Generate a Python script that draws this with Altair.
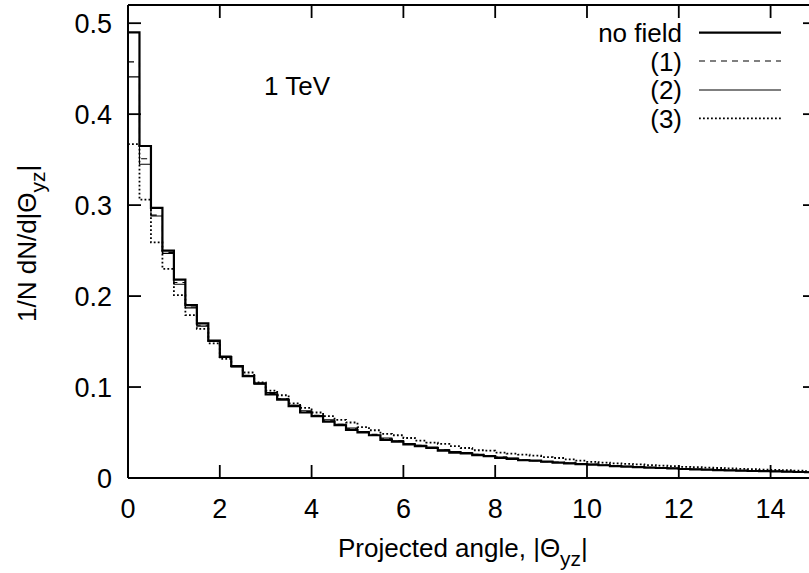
import altair as alt
import pandas as pd

# ---------------- data ----------------
BIN_WIDTH = 0.25
series_names = ["no field", "(1)", "(2)", "(3)"]

no_field = [0.490, 0.365, 0.297, 0.250, 0.218, 0.190, 0.170, 0.151, 0.133, 0.123,
            0.112, 0.104, 0.092, 0.086, 0.079, 0.072, 0.068, 0.062, 0.058, 0.053,
            0.050, 0.047, 0.042, 0.040, 0.037, 0.035, 0.033, 0.030, 0.028, 0.027,
            0.025, 0.024, 0.022, 0.021, 0.0195, 0.019, 0.018, 0.017, 0.016, 0.0152,
            0.0146, 0.014, 0.013, 0.0125, 0.012, 0.0115, 0.011, 0.0105, 0.0099, 0.0095,
            0.0091, 0.0087, 0.0083, 0.008, 0.0077, 0.0075, 0.0073, 0.007, 0.0066, 0.0063]

field1 = [0.4575, 0.351, 0.289, 0.248, 0.215, 0.188, 0.168, 0.150, 0.133, 0.123,
          0.113, 0.104, 0.093, 0.087, 0.080, 0.073, 0.069, 0.063, 0.059, 0.054,
          0.051, 0.048, 0.043, 0.041, 0.038, 0.036, 0.033, 0.031, 0.029, 0.027,
          0.026, 0.024, 0.023, 0.021, 0.020, 0.019, 0.018, 0.0175, 0.0165, 0.0155,
          0.015, 0.014, 0.0133, 0.0127, 0.0122, 0.0117, 0.0112, 0.0107, 0.0101, 0.0097,
          0.0093, 0.0089, 0.0085, 0.0082, 0.0079, 0.0076, 0.0074, 0.0071, 0.0068, 0.0065]

field2 = [0.441, 0.345, 0.288, 0.247, 0.213, 0.187, 0.167, 0.150, 0.134, 0.122,
          0.112, 0.103, 0.094, 0.087, 0.080, 0.074, 0.068, 0.064, 0.059, 0.055,
          0.051, 0.047, 0.044, 0.041, 0.038, 0.036, 0.034, 0.031, 0.029, 0.028,
          0.026, 0.024, 0.023, 0.022, 0.020, 0.019, 0.018, 0.017, 0.0165, 0.0158,
          0.015, 0.0143, 0.0135, 0.0128, 0.0122, 0.0116, 0.0112, 0.0106, 0.0101, 0.0096,
          0.0092, 0.0088, 0.0085, 0.0081, 0.0078, 0.0076, 0.0073, 0.007, 0.0067, 0.0064]

field3 = [0.367, 0.306, 0.259, 0.230, 0.201, 0.179, 0.164, 0.148, 0.131, 0.123,
          0.116, 0.105, 0.096, 0.091, 0.082, 0.077, 0.072, 0.068, 0.064, 0.061,
          0.056, 0.0525, 0.0485, 0.047, 0.044, 0.041, 0.039, 0.0375, 0.035, 0.033,
          0.0305, 0.030, 0.028, 0.0267, 0.0256, 0.0245, 0.023, 0.022, 0.0205, 0.019,
          0.0178, 0.017, 0.016, 0.0155, 0.015, 0.0142, 0.0136, 0.013, 0.0122, 0.0118,
          0.0113, 0.011, 0.0105, 0.0101, 0.0097, 0.0093, 0.009, 0.0085, 0.0081, 0.0076]

x_ticks = [0, 2, 4, 6, 8, 10, 12, 14]
x_tick_labels = ["0", "2", "4", "6", "8", "10", "12", "14"]
y_ticks = [0, 0.1, 0.2, 0.3, 0.4, 0.5]
y_tick_labels = ["0", "0.1", "0.2", "0.3", "0.4", "0.5"]

# ---------------- layout ----------------
FONT = "Liberation Sans"
W, H = 681, 473
LEFT, TOP = 128, 5
X_MAX = 14.837
Y_MAX = 0.52
TICK = 13

all_series = [no_field, field1, field2, field3]
rows = []
for name, vals in zip(series_names, all_series):
    for i, v in enumerate(vals):
        rows.append({"series": name, "x": i * BIN_WIDTH, "y": v})
    rows.append({"series": name, "x": len(vals) * BIN_WIDTH, "y": vals[-1]})
df = pd.DataFrame(rows)

xscale = alt.Scale(domain=[0, X_MAX], nice=False, zero=False)
yscale = alt.Scale(domain=[0, Y_MAX], nice=False)

styles = {
    "no field": dict(strokeWidth=2.2),
    "(1)": dict(strokeWidth=1.1, strokeDash=[6, 5]),
    "(2)": dict(strokeWidth=1.1),
    "(3)": dict(strokeWidth=1.8, strokeDash=[1.8, 2.2]),
}

layers = []
for name in series_names:
    sub = df[df["series"] == name]
    layers.append(
        alt.Chart(sub).mark_line(interpolate="step-after", color="black", clip=True,
                                 **styles[name]).encode(
            x=alt.X("x:Q", scale=xscale, axis=None),
            y=alt.Y("y:Q", scale=yscale, axis=None),
        )
    )

one = alt.Data(values=[{"a": 1}])

# frame (left, bottom, top)
frame = [
    alt.Chart(one).mark_rule(color="black", strokeWidth=2).encode(
        x=alt.value(0), y=alt.value(0), y2=alt.value(H)),
    alt.Chart(one).mark_rule(color="black", strokeWidth=2).encode(
        x=alt.value(0), x2=alt.value(W), y=alt.value(H)),
    alt.Chart(one).mark_rule(color="black", strokeWidth=2).encode(
        x=alt.value(0), x2=alt.value(W), y=alt.value(0)),
]

# inward ticks and tick labels
xt = pd.DataFrame({"v": x_ticks, "label": x_tick_labels})
yt = pd.DataFrame({"v": y_ticks, "label": y_tick_labels})
ticks = [
    alt.Chart(xt).mark_rule(color="black", strokeWidth=1.8).encode(
        x=alt.X("v:Q", scale=xscale, axis=None), y=alt.value(H), y2=alt.value(H - TICK)),
    alt.Chart(xt).mark_rule(color="black", strokeWidth=1.8).encode(
        x=alt.X("v:Q", scale=xscale, axis=None), y=alt.value(0), y2=alt.value(TICK)),
    alt.Chart(yt).mark_rule(color="black", strokeWidth=1.8).encode(
        y=alt.Y("v:Q", scale=yscale, axis=None), x=alt.value(0), x2=alt.value(TICK)),
    alt.Chart(yt).mark_rule(color="black", strokeWidth=1.8).encode(
        y=alt.Y("v:Q", scale=yscale, axis=None), x=alt.value(W - 6), x2=alt.value(W)),
    alt.Chart(xt).mark_text(font=FONT, fontSize=27, align="center", baseline="alphabetic",
                            color="black").encode(
        x=alt.X("v:Q", scale=xscale, axis=None), y=alt.value(H + 40), text="label:N"),
    alt.Chart(yt).mark_text(font=FONT, fontSize=27, align="right", baseline="alphabetic",
                            color="black", dy=9.7).encode(
        y=alt.Y("v:Q", scale=yscale, axis=None), x=alt.value(-16), text="label:N"),
]

def txt(s, x, y, size=26, align="left", angle=0):
    kw = dict(text=s, font=FONT, fontSize=size, align=align, baseline="alphabetic",
              color="black")
    if angle:
        kw["angle"] = angle
    return alt.Chart(one).mark_text(**kw).encode(x=alt.value(x), y=alt.value(y))

texts = [
    # annotation
    txt("1 TeV", 136, 90),
    # x title
    txt("Projected angle, |Θ", 210, 552),
    txt("yz", 432, 561, size=21),
    txt("|", 453, 552),
    # y title (rotated)
    txt("1/N dN/d|Θ", -92, 317, angle=270),
    txt("yz", -83, 187.4, size=21, angle=270),
    txt("|", -92, 166.4, angle=270),
]

# legend
legend_text_y = [37, 65.5, 94, 122.5]
legend_line_y = [27.7, 56, 85, 113.3]
legend = []
for name, ty, ly in zip(series_names, legend_text_y, legend_line_y):
    legend.append(txt(name, 554, ty, align="right"))
    legend.append(
        alt.Chart(one).mark_rule(color="black", **styles[name]).encode(
            x=alt.value(571), x2=alt.value(653), y=alt.value(ly))
    )

chart = alt.layer(*layers, *frame, *ticks, *texts, *legend).properties(
    width=W, height=H,
    padding={"left": LEFT, "top": TOP, "right": 0, "bottom": 573 - TOP - H},
    autosize=alt.AutoSizeParams(type="none"),
    background="white",
).configure_view(stroke=None)

chart.save("out.html", embed_options={"renderer": "svg", "actions": False})
